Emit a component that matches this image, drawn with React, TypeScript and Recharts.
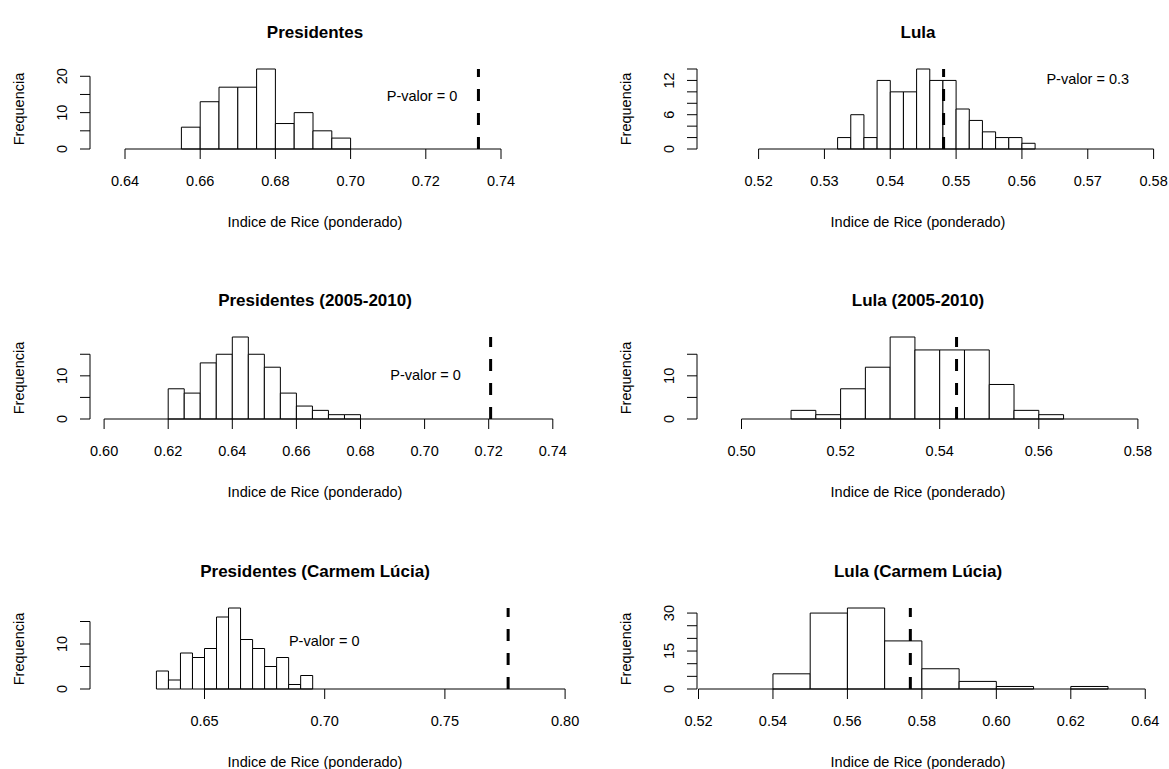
import React from "react";
import { ComposedChart, XAxis, YAxis, ReferenceArea, ReferenceLine, ReferenceDot, Line } from "recharts";

const FONT = '"Liberation Sans", Arial, Helvetica, sans-serif';
const FS = 14.5;
const TITLE_FS = 17;

// Presidentes
const presBreaks = [0.655, 0.66, 0.665, 0.67, 0.675, 0.68, 0.685, 0.69, 0.695, 0.7];
const presCounts = [6, 13, 17, 17, 22, 7, 10, 5, 3];
const presObs = 0.734;
const presXTicks = [0.64, 0.66, 0.68, 0.7, 0.72, 0.74];
const presYTicks = [0, 5, 10, 15, 20];
const presYLabels = [0, 10, 20];

// Lula
const lulaBreaks = [0.532, 0.534, 0.536, 0.538, 0.54, 0.542, 0.544, 0.546, 0.548, 0.55, 0.552, 0.554, 0.556, 0.558, 0.56, 0.562];
const lulaCounts = [2, 6, 2, 12, 10, 10, 14, 12, 12, 7, 5, 3, 2, 2, 1];
const lulaObs = 0.5481;
const lulaXTicks = [0.52, 0.53, 0.54, 0.55, 0.56, 0.57, 0.58];
const lulaYTicks = [0, 2, 4, 6, 8, 10, 12, 14];
const lulaYLabels = [0, 6, 12];

// Presidentes (2005-2010)
const pres0510Breaks = [0.62, 0.625, 0.63, 0.635, 0.64, 0.645, 0.65, 0.655, 0.66, 0.665, 0.67, 0.675, 0.68];
const pres0510Counts = [7, 6, 13, 15, 19, 15, 12, 6, 3, 2, 1, 1];
const pres0510Obs = 0.7206;
const pres0510XTicks = [0.6, 0.62, 0.64, 0.66, 0.68, 0.7, 0.72, 0.74];
const pres0510YTicks = [0, 5, 10, 15];
const pres0510YLabels = [0, 10];

// Lula (2005-2010)
const lula0510Breaks = [0.51, 0.515, 0.52, 0.525, 0.53, 0.535, 0.54, 0.545, 0.55, 0.555, 0.56, 0.565];
const lula0510Counts = [2, 1, 7, 12, 19, 16, 16, 16, 8, 2, 1];
const lula0510Obs = 0.5434;
const lula0510XTicks = [0.5, 0.52, 0.54, 0.56, 0.58];
const lula0510YTicks = [0, 5, 10, 15];
const lula0510YLabels = [0, 10];

// Presidentes (Carmem Lúcia)
const presCLBreaks = [0.63, 0.635, 0.64, 0.645, 0.65, 0.655, 0.66, 0.665, 0.67, 0.675, 0.68, 0.685, 0.69, 0.695];
const presCLCounts = [4, 2, 8, 7, 9, 16, 18, 11, 9, 5, 7, 1, 3];
const presCLObs = 0.7763;
const presCLXTicks = [0.65, 0.7, 0.75, 0.8];
const presCLYTicks = [0, 5, 10, 15];
const presCLYLabels = [0, 10];

// Lula (Carmem Lúcia)
const lulaCLBreaks = [0.54, 0.55, 0.56, 0.57, 0.58, 0.59, 0.6, 0.61, 0.62, 0.63];
const lulaCLCounts = [6, 30, 32, 19, 8, 3, 1, 0, 1];
const lulaCLObs = 0.5769;
const lulaCLXTicks = [0.52, 0.54, 0.56, 0.58, 0.6, 0.62, 0.64];
const lulaCLYTicks = [0, 5, 10, 15, 20, 25, 30];
const lulaCLYLabels = [0, 15, 30];

const panels = [
  { title: "Presidentes", breaks: presBreaks, counts: presCounts, obs: presObs, xTicks: presXTicks, yTicks: presYTicks, yLabels: presYLabels, pval: "0", pAt: [0.719, 14.5], col: 0, row: 0, domain: [0.630691, 0.758351] },
  { title: "Lula", breaks: lulaBreaks, counts: lulaCounts, obs: lulaObs, xTicks: lulaXTicks, yTicks: lulaYTicks, yLabels: lulaYLabels, pval: "0.3", pAt: [0.57, 12.3], col: 1, row: 0, domain: [0.510643, 0.580972] },
  { title: "Presidentes (2005-2010)", breaks: pres0510Breaks, counts: pres0510Counts, obs: pres0510Obs, xTicks: pres0510XTicks, yTicks: pres0510YTicks, yLabels: pres0510YLabels, pval: "0", pAt: [0.7003, 10.3], col: 0, row: 1, domain: [0.595601, 0.745367] },
  { title: "Lula (2005-2010)", breaks: lula0510Breaks, counts: lula0510Counts, obs: lula0510Obs, xTicks: lula0510XTicks, yTicks: lula0510YTicks, yLabels: lula0510YLabels, pval: null, pAt: null, col: 1, row: 1, domain: [0.491019, 0.58446] },
  { title: "Presidentes (Carmem Lúcia)", breaks: presCLBreaks, counts: presCLCounts, obs: presCLObs, xTicks: presCLXTicks, yTicks: presCLYTicks, yLabels: presCLYLabels, pval: "0", pAt: [0.6998, 10.6], col: 0, row: 2, domain: [0.602371, 0.802038] },
  { title: "Lula (Carmem Lúcia)", breaks: lulaCLBreaks, counts: lulaCLCounts, obs: lulaCLObs, xTicks: lulaCLXTicks, yTicks: lulaCLYTicks, yLabels: lulaCLYLabels, pval: null, pAt: null, col: 1, row: 2, domain: [0.519597, 0.643959] },
];

// layout (pixels)
const COLS = [
  { left: 0, width: 584, axisX: 90, plotRight: 570, center: 315 },
  { left: 584, width: 585, axisX: 697, plotRight: 1160, center: 918 },
];
const ROWS = [
  { top: 69, bottom: 149 },
  { top: 337, bottom: 419 },
  { top: 608, bottom: 689 },
];
const Y_AXIS_W = 80;
const X_AXIS_H = 50;
const TOP_PAD = 20;
const BOTTOM_PAD = 10;

const textStyle: React.CSSProperties = {
  position: "absolute",
  fontFamily: FONT,
  color: "#000",
  whiteSpace: "nowrap",
  transform: "translate(-50%, -50%)",
  lineHeight: 1,
};

const XTick = ({ x, y, payload }: any) => (
  <text x={x} y={y} dy={20} textAnchor="middle" dominantBaseline="central" fontSize={FS} fontFamily={FONT} fill="#000">
    {Number(payload.value).toFixed(2)}
  </text>
);

function makeYTick(labels: number[]) {
  return ({ x, y, payload }: any) => {
    if (!labels.includes(payload.value)) return <g />;
    const tx = x - 16;
    return (
      <text x={tx} y={y} transform={`rotate(-90, ${tx}, ${y})`} textAnchor="middle" dominantBaseline="central" fontSize={FS} fontFamily={FONT} fill="#000">
        {payload.value}
      </text>
    );
  };
}

function Hist({ p }: { p: any }) {
  const col = COLS[p.col];
  const row = ROWS[p.row];
  const plotH = row.bottom - row.top;
  const height = TOP_PAD + plotH + X_AXIS_H + BOTTOM_PAD;
  const maxCount = Math.max(...p.counts);
  const bins = p.counts.map((c: number, i: number) => ({
    lo: p.breaks[i],
    hi: p.breaks[i + 1],
    mid: (p.breaks[i] + p.breaks[i + 1]) / 2,
    count: c,
  }));
  const YTick = makeYTick(p.yLabels);
  const xLast = p.xTicks[p.xTicks.length - 1];
  const yLast = p.yTicks[p.yTicks.length - 1];

  return (
    <>
      <div style={{ ...textStyle, left: col.center, top: row.top - 37, fontSize: TITLE_FS, fontWeight: "bold" }}>{p.title}</div>
      <div style={{ position: "absolute", left: col.left, top: row.top - TOP_PAD }}>
        <ComposedChart
          width={col.width}
          height={height}
          data={bins}
          margin={{ top: TOP_PAD, bottom: BOTTOM_PAD, left: col.axisX - col.left - Y_AXIS_W, right: col.left + col.width - col.plotRight }}
        >
          <XAxis
            dataKey="mid"
            type="number"
            domain={p.domain}
            ticks={p.xTicks}
            interval={0}
            height={X_AXIS_H}
            axisLine={false}
            tickLine={{ stroke: "#000" }}
            tickSize={10}
            tick={<XTick />}
            allowDataOverflow
          />
          <YAxis
            type="number"
            domain={[0, maxCount]}
            ticks={p.yTicks}
            interval={0}
            width={Y_AXIS_W}
            axisLine={false}
            tickLine={{ stroke: "#000" }}
            tickSize={10}
            tick={<YTick />}
            allowDataOverflow
          />
          {bins.map((b: any, i: number) => (
            <ReferenceArea key={i} x1={b.lo} x2={b.hi} y1={0} y2={b.count} fill="#fff" fillOpacity={1} stroke="#000" strokeWidth={1} ifOverflow="visible" />
          ))}
          <ReferenceLine segment={[{ x: p.xTicks[0], y: 0 }, { x: xLast, y: 0 }]} stroke="#000" strokeWidth={1} ifOverflow="visible" />
          <ReferenceLine segment={[{ x: p.domain[0], y: 0 }, { x: p.domain[0], y: yLast }]} stroke="#000" strokeWidth={1} ifOverflow="visible" />
          <ReferenceLine segment={[{ x: p.obs, y: 0 }, { x: p.obs, y: maxCount }]} stroke="#000" strokeWidth={3} strokeDasharray="12 12" ifOverflow="visible" />
          {p.pval !== null && (
            <ReferenceDot
              x={p.pAt[0]}
              y={p.pAt[1]}
              r={0}
              stroke="none"
              fill="none"
              ifOverflow="visible"
              label={{ value: `P-valor = ${p.pval}`, position: "center", fontSize: FS, fontFamily: FONT, fill: "#000" }}
            />
          )}
          <Line dataKey="count" stroke="none" dot={false} activeDot={false} isAnimationActive={false} />
        </ComposedChart>
      </div>
      <div style={{ ...textStyle, left: col.axisX - 71, top: (row.top + row.bottom) / 2, fontSize: FS, transform: "translate(-50%, -50%) rotate(-90deg)" }}>
        Frequencia
      </div>
      <div style={{ ...textStyle, left: col.center, top: row.bottom + 73, fontSize: FS }}>Indice de Rice (ponderado)</div>
    </>
  );
}

export default function App() {
  return (
    <div style={{ position: "absolute", left: 0, top: 0, width: 1169, height: 769, background: "#fff", overflow: "hidden" }}>
      {panels.map((p) => (
        <Hist key={p.title} p={p} />
      ))}
    </div>
  );
}
